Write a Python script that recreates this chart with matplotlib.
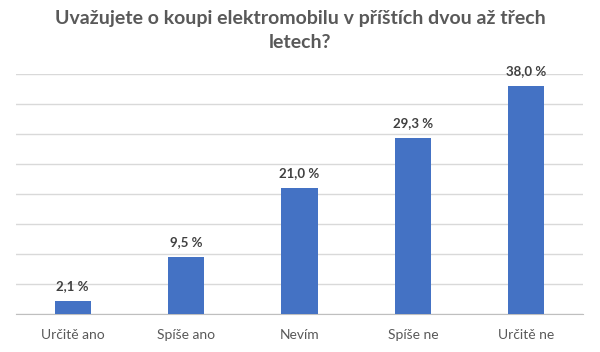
import matplotlib
matplotlib.use("Agg")
import matplotlib.pyplot as plt

categories = ["Určitě ano", "Spíše ano", "Nevím", "Spíše ne", "Určitě ne"]
values = [2.1, 9.5, 21.0, 29.3, 38.0]
labels = ["2,1 %", "9,5 %", "21,0 %", "29,3 %", "38,0 %"]
title = "Uvažujete o koupi elektromobilu v příštích dvou až třech\nletech?"

plt.rcParams['font.family'] = ['Lato', 'DejaVu Sans']

fig = plt.figure(figsize=(6.0, 3.52), dpi=100)
ax = fig.add_axes([16/600, 1 - 314/352, 567/600, 240/352])

x = list(range(len(categories)))
ax.bar(x, values, width=0.32, color="#4472C4", zorder=3)
for xi, v, lab in zip(x, values, labels):
    ax.text(xi, v + 1.5, lab, ha="center", va="bottom", fontsize=9.5,
            fontweight="bold", color="#404040")

ax.set_xlim(-0.5, len(categories) - 0.5)
ax.set_ylim(0, 40)
ax.set_yticks(range(0, 41, 5))
ax.yaxis.grid(True, color="#d9d9d9", linewidth=1, zorder=0)
ax.tick_params(axis="y", left=False, labelleft=False)
ax.set_xticks(x)
ax.set_xticklabels(categories, fontsize=10, color="#595959")
ax.tick_params(axis="x", length=0, pad=11)
for s in ["top", "right", "left"]:
    ax.spines[s].set_visible(False)
ax.spines["bottom"].set_color("#bfbfbf")

fig.text(0.5, 1 - 10/352, title, ha="center", va="top", fontsize=14,
         fontweight="bold", color="#595959", linespacing=1.5)

fig.savefig("out.png", dpi=100)
